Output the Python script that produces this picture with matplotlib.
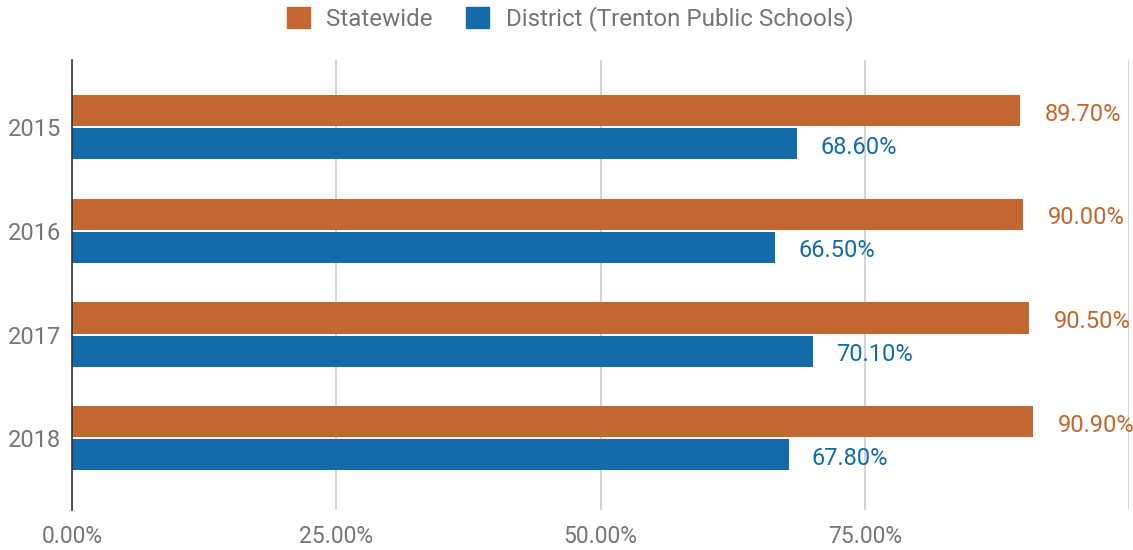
import matplotlib
matplotlib.use('Agg')
import matplotlib.pyplot as plt
import numpy as np
from matplotlib.ticker import FuncFormatter
from matplotlib.patches import Patch

plt.rcParams['font.family'] = ['Roboto', 'DejaVu Sans']

years = ['2015', '2016', '2017', '2018']
statewide = [89.70, 90.00, 90.50, 90.90]
district = [68.60, 66.50, 70.10, 67.80]
series_names = ['Statewide', 'District (Trenton Public Schools)']

orange = '#C1672F'
blue = '#146BAA'
grey = '#757575'

fig = plt.figure(figsize=(11.33, 5.5), dpi=100)
ax = fig.add_axes([72 / 1133, 40 / 550, 1057 / 1133, 450 / 550])

y = np.arange(len(years))
h = 0.30
off = 0.159
ax.barh(y - off, statewide, height=h, color=orange, zorder=3)
ax.barh(y + off, district, height=h, color=blue, zorder=3)

# value labels sit a touch below the bar centre, like the original
dy = 0.035
for yi, v in zip(y, statewide):
    ax.text(v + 2.35, yi - off + dy, f'{v:.2f}%', color=orange, fontsize=17,
            va='center', ha='left')
for yi, v in zip(y, district):
    ax.text(v + 2.2, yi + off + dy, f'{v:.2f}%', color=blue, fontsize=17,
            va='center', ha='left')

ax.set_xlim(0, 100)
ax.set_ylim(3.69, -0.645)
ax.set_xticks([0, 25, 50, 75, 100])
ax.xaxis.set_major_formatter(FuncFormatter(lambda v, p: '' if v == 100 else f'{v:.2f}%'))
ax.set_yticks(y)
ax.set_yticklabels(years)
ax.tick_params(axis='both', length=0, labelcolor=grey)
ax.tick_params(axis='x', pad=11, labelsize=16.5)
ax.tick_params(axis='y', pad=8, labelsize=17)
for lab in ax.get_yticklabels():
    lab.set_va('center_baseline')

ax.grid(axis='x', color='#cccccc', linewidth=1.2, zorder=0)
for s in ['top', 'right', 'bottom']:
    ax.spines[s].set_visible(False)
ax.spines['left'].set_color('#333333')
ax.spines['left'].set_linewidth(1.2)
ax.spines['left'].set_zorder(4)

handles = [Patch(facecolor=orange, edgecolor=orange), Patch(facecolor=blue, edgecolor=blue)]
fig.legend(handles, series_names, loc='center', bbox_to_anchor=(570 / 1133, 1 - 19 / 550),
           ncol=2, frameon=False, fontsize=17.4, labelcolor=grey,
           handlelength=0.95, handleheight=0.95, handletextpad=0.7, columnspacing=1.36)

fig.savefig('out.png', dpi=100)
